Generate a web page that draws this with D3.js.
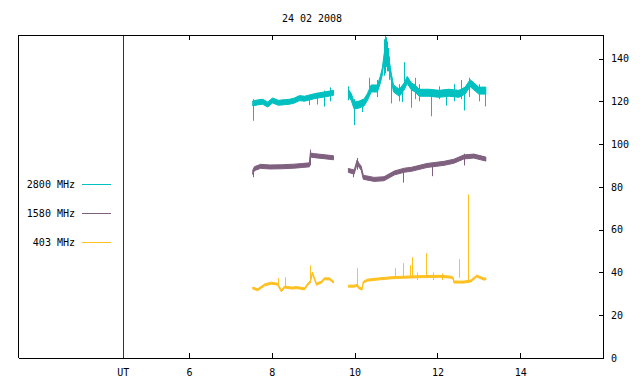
<!DOCTYPE html>
<html>
<head>
<meta charset="utf-8">
<script src="https://cdn.jsdelivr.net/npm/d3@7"></script>
<style>
body { margin: 0; background: #fff; }
svg { display: block; font-family: "DejaVu Sans Mono", monospace; font-size: 10px; }
</style>
</head>
<body>
<div id="chart" style="width:640px;height:384px"></div>
<script>
const title = "24 02 2008";
const xTicks = [6, 8, 10, 12, 14];
const yTicks = [0, 20, 40, 60, 80, 100, 120, 140];
const utHour = 4.41;
const seriesNames = ["2800 MHz", "1580 MHz", "403 MHz"];
const seriesColors = ["#00c0c0", "#7f607f", "#ffc020"];

// 2800 MHz (null = data gap)
const t2800 = [7.54, 7.66, 7.78, 7.90, 8.02, 8.16, 8.31, 8.43, 8.55, 8.67, 8.79, 8.91, 9.03, 9.15, 9.27, 9.39, 9.49,
    9.7,
    9.85, 9.92, 9.99, 10.11, 10.23, 10.31, 10.40, 10.55, 10.62, 10.67, 10.71, 10.74, 10.77, 10.79, 10.84, 10.89, 10.94,
    11.08, 11.20, 11.27, 11.37, 11.46, 11.56, 11.80, 12.04, 12.28, 12.52, 12.67, 12.79, 12.88, 13.00, 13.17];
const v2800 = [119, 119.5, 119.8, 118.5, 120.4, 119.3, 119.6, 119.8, 120.4, 121.5, 121.2, 121.8, 122.4, 122.8, 123.2, 123.6, 124,
    null,
    124, 122, 118, 118.5, 119.5, 122, 126, 126, 130, 134, 140, 144, 142, 141, 137, 131, 126,
    124, 127, 130, 127, 126, 124, 124, 123.5, 124, 123.5, 125, 128.5, 127, 125, 125];
const spikes2800 = [[7.54, 110.9, 121], [8.91, 118.2, 123], [9.10, 118.5, 124], [9.27, 117.5, 125], [9.40, 120, 126.5],
    [9.85, 120.5, 127], [9.98, 108.9, 121], [10.18, 115, 121], [10.36, 124, 131], [10.53, 122, 130],
    [10.70, 132, 146], [10.72, 135, 149], [10.74, 133, 150.5], [10.76, 136, 150], [10.78, 134, 148],
    [10.81, 134, 145], [10.83, 130, 141], [10.89, 119, 131], [11.08, 120, 128], [11.15, 119.7, 127],
    [11.20, 127, 138.3], [11.37, 117, 128], [11.46, 121, 131], [11.56, 120, 128], [11.85, 113, 125],
    [12.04, 121, 127], [12.21, 118, 125], [12.40, 120, 128], [12.57, 121, 130], [12.64, 115.7, 125],
    [12.76, 122, 131], [13.00, 120, 128], [13.15, 117.6, 126]];

// 1580 MHz
const t1580 = [7.54, 7.58, 7.73, 7.95, 8.24, 8.55, 8.74, 8.91, 8.93, 9.03, 9.27, 9.49,
    9.7,
    9.85, 9.99, 10.06, 10.11, 10.16, 10.21, 10.47, 10.71, 10.96, 11.20, 11.37, 11.75, 12.16, 12.40, 12.64, 12.88, 13.17];
const v1580 = [86.8, 88.5, 89.6, 89.3, 89.4, 89.7, 90, 90.3, 94.9, 94.6, 94.1, 93.6,
    null,
    87.7, 86.9, 91.6, 90, 88.7, 84.5, 83.5, 83.8, 86.5, 87.8, 88.2, 90, 91, 92, 94, 94.4, 93];
const spikes1580 = [[7.54, 84.5, 88], [8.93, 90, 97.4], [9.96, 84.5, 88], [10.06, 88, 93.5], [11.16, 82, 88],
    [11.86, 85, 90.5], [12.64, 90, 95.5]];

// 403 MHz
const t403 = [7.54, 7.66, 7.83, 7.99, 8.14, 8.23, 8.31, 8.47, 8.62, 8.79, 8.86, 8.93, 8.98, 9.08, 9.20, 9.27, 9.39, 9.49,
    9.7,
    9.85, 9.99, 10.06, 10.11, 10.18, 10.21, 10.31, 10.55, 10.88, 11.20, 11.56, 12.04, 12.33, 12.38, 12.40, 12.64, 12.81,
    12.95, 13.12, 13.17];
const v403 = [32.7, 31.9, 34.2, 35, 34.5, 31.4, 33.2, 32.7, 32.9, 32.3, 34.2, 35.7, 39.7, 34.5, 35.5, 37, 37, 35.5,
    null,
    33.6, 33.6, 34, 32.7, 32.2, 35.4, 36.4, 36.9, 37.5, 37.8, 38, 38.2, 37.8, 37.3, 35.5, 35.5, 36,
    38.3, 36.9, 37];
const spikes403 = [[8.16, 34.5, 37.3], [8.31, 33, 37.8], [8.93, 35, 43.3], [10.06, 33, 42], [10.98, 37.5, 42],
    [11.17, 37.8, 44.3], [11.34, 38, 43.4], [11.39, 38, 47.1], [11.50, 36.5, 40], [11.73, 38, 49],
    [11.90, 36.5, 40], [12.10, 36.5, 39.5], [12.52, 37.5, 46.2], [12.74, 36, 76.5]];

const margin = { top: 35, right: 37, bottom: 26, left: 18 };
const W = 640, H = 384;
const width = W - margin.left - margin.right;
const height = H - margin.top - margin.bottom;

const xScale = d3.scaleLinear().domain([1.87, 16.0]).range([0, width]);
const yScale = d3.scaleLinear().domain([0, 151]).range([height, 0]);

const svg = d3.select("#chart")
    .append("svg")
    .attr("width", W)
    .attr("height", H);

svg.append("text")
    .attr("x", 312)
    .attr("y", 22)
    .attr("text-anchor", "middle")
    .text(title);

const g = svg.append("g")
    .attr("transform", `translate(${margin.left},${margin.top})`);

// UT marker
g.append("rect")
    .attr("x", Math.round(xScale(utHour)))
    .attr("y", 0)
    .attr("width", 1)
    .attr("height", height)
    .attr("fill", "#b00000");

// axes: inward ticks like gnuplot
const xAxis = d3.axisBottom(xScale)
    .tickValues(xTicks)
    .tickSizeInner(-5)
    .tickSizeOuter(0)
    .tickPadding(11);
const xBottom = g.append("g")
    .attr("class", "axis")
    .attr("transform", `translate(0,${height})`)
    .call(xAxis);
xBottom.append("text")
    .attr("x", xScale(utHour))
    .attr("y", 11)
    .attr("dy", "0.71em")
    .attr("text-anchor", "middle")
    .text("UT");

const xTop = d3.axisTop(xScale)
    .tickValues(xTicks)
    .tickFormat("")
    .tickSizeInner(-5)
    .tickSizeOuter(0);
g.append("g").attr("class", "axis").call(xTop);

const yAxis = d3.axisRight(yScale)
    .tickValues(yTicks)
    .tickSizeInner(-4)
    .tickSizeOuter(0)
    .tickPadding(8);
g.append("g")
    .attr("class", "axis")
    .attr("transform", `translate(${width},0)`)
    .call(yAxis);

g.append("line")
    .attr("class", "border")
    .attr("x1", 0).attr("x2", 0)
    .attr("y1", 0).attr("y2", height);

g.selectAll(".axis .domain, .axis .tick line, .border")
    .attr("stroke", "#000")
    .attr("shape-rendering", "crispEdges");
g.selectAll(".axis text").attr("fill", "#000").style("font-size", "10px").style("font-family", "DejaVu Sans Mono");

const series = [
    { t: t2800, v: v2800, spikes: spikes2800, half: [2.5, 3.5] },
    { t: t1580, v: v1580, spikes: spikes1580, half: [2, 2] },
    { t: t403, v: v403, spikes: spikes403, half: [1, 1] }
];

series.forEach((s, i) => {
    let seg = 0;
    const pts = s.t.map((t, j) => {
        if (s.v[j] === null) seg++;
        return { t: t, v: s.v[j], h: s.half[Math.min(seg, 1)] };
    });
    const band = d3.area()
        .defined(d => d.v !== null)
        .x(d => xScale(d.t))
        .y0(d => yScale(d.v) + d.h)
        .y1(d => yScale(d.v) - d.h);
    g.append("path")
        .datum(pts)
        .attr("fill", seriesColors[i])
        .attr("stroke", seriesColors[i])
        .attr("stroke-width", 1)
        .attr("d", band);

    g.selectAll(".spike" + i)
        .data(s.spikes)
        .enter().append("line")
        .attr("class", "spike" + i)
        .attr("x1", d => Math.round(xScale(d[0])) + 0.5)
        .attr("x2", d => Math.round(xScale(d[0])) + 0.5)
        .attr("y1", d => yScale(d[1]))
        .attr("y2", d => yScale(d[2]))
        .attr("stroke", seriesColors[i])
        .attr("stroke-width", 1);
});

// legend
const legend = svg.append("g");
seriesNames.forEach((name, i) => {
    const y = 184 + i * 29;
    legend.append("text")
        .attr("x", 75)
        .attr("y", y + 4)
        .attr("text-anchor", "end")
        .text(name);
    legend.append("line")
        .attr("x1", 82).attr("x2", 111)
        .attr("y1", y + 0.5).attr("y2", y + 0.5)
        .attr("stroke", seriesColors[i])
        .attr("stroke-width", 1);
});
</script>
</body>
</html>
